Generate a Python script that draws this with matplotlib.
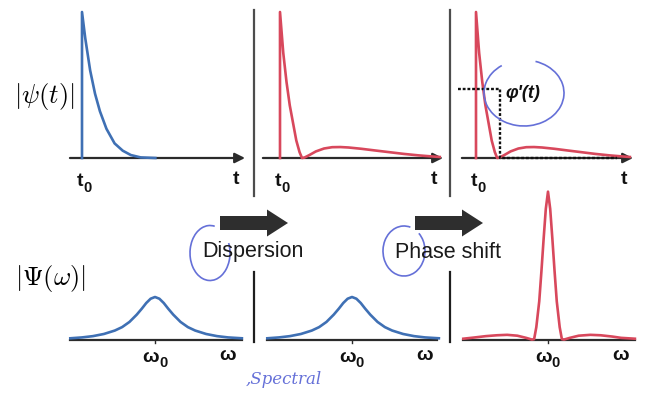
import matplotlib
matplotlib.use("Agg")
import matplotlib.pyplot as plt
from matplotlib import font_manager
from matplotlib.patches import FancyArrow, Arc

# ---------------------------
# Data
# ---------------------------
# top row: time axis (t0 = 0, arrow tip = 1), amplitude (peak = 1)
t_pulse = [0, 0, 0.02, 0.05, 0.08, 0.11, 0.15, 0.2, 0.25, 0.3, 0.36, 0.45]
a_pulse = [0, 1, 0.82, 0.6, 0.44, 0.32, 0.2, 0.1, 0.05, 0.02, 0.004, 0]

t_disp = [0, 0, 0.02, 0.04, 0.06, 0.08, 0.1, 0.12, 0.135, 0.15, 0.18, 0.22, 0.27,
          0.32, 0.37, 0.42, 0.5, 0.58, 0.67, 0.76, 0.85, 0.94, 0.98]
a_disp = [0, 1, 0.72, 0.52, 0.36, 0.24, 0.12, 0.04, 0.0, 0.003, 0.02, 0.045, 0.065,
          0.074, 0.075, 0.072, 0.063, 0.052, 0.04, 0.028, 0.018, 0.01, 0.007]

# dashed guide for the instantaneous frequency phi'(t)
phi_t = [-0.115, 0.153, 0.153, 0.9]
phi_a = [0.47, 0.47, 0, 0]

# bottom row: frequency axis (omega0 = 0, omega label = 1)
w_env = [-1.16, -1.0, -0.85, -0.7, -0.55, -0.45, -0.35, -0.25, -0.18, -0.12, -0.06, 0,
         0.06, 0.12, 0.18, 0.25, 0.35, 0.45, 0.55, 0.7, 0.85, 1.0, 1.19]
a_env = [0.04, 0.06, 0.09, 0.14, 0.22, 0.3, 0.42, 0.59, 0.73, 0.86, 0.96, 1.0,
         0.96, 0.86, 0.73, 0.59, 0.42, 0.3, 0.22, 0.14, 0.09, 0.06, 0.04]

w_comp = [-1.16, -1.0, -0.85, -0.7, -0.56, -0.42, -0.3, -0.22, -0.19, -0.16, -0.12,
          -0.09, -0.06, -0.03, 0, 0.03, 0.06, 0.09, 0.12, 0.16, 0.19, 0.22, 0.3,
          0.42, 0.58, 0.72, 0.88, 1.0, 1.19]
a_comp = [0.03, 0.06, 0.09, 0.11, 0.12, 0.1, 0.05, 0.01, 0.02, 0.3, 0.9, 1.6, 2.35,
          3.05, 3.45, 3.05, 2.35, 1.6, 0.9, 0.3, 0.02, 0.01, 0.05, 0.1, 0.12, 0.11,
          0.08, 0.05, 0.03]

steps = ["Dispersion", "Phase shift"]

BLUE = "#3f70b4"
RED = "#d8485c"
AXIS = "#2b2b2b"
PEN = "#6570d8"

names = {f.name for f in font_manager.fontManager.ttflist}
LABEL_FONT = "Liberation Sans Narrow" if "Liberation Sans Narrow" in names else "Liberation Sans"

W, H = 648, 396
fig = plt.figure(figsize=(W / 100, H / 100), dpi=100)


def px_axes(ox, oy, sx, sy, x0, x1, y0, y1):
    # axes over a pixel box, data origin at (ox, oy), sx/sy pixels per unit
    ax = fig.add_axes([x0 / W, 1 - y1 / H, (x1 - x0) / W, (y1 - y0) / H])
    ax.set_xlim((x0 - ox) / sx, (x1 - ox) / sx)
    ax.set_ylim((oy - y1) / sy, (oy - y0) / sy)
    ax.set_axis_off()
    return ax


def sub_label(ax, x, dy, main, sub, dx):
    kw = dict(xy=(x, 0), textcoords="offset pixels", ha="center", va="center",
              family=LABEL_FONT, fontweight="bold", color="#111111")
    ax.annotate(main, xytext=(-dx + 2, dy), fontsize=14, **kw)
    ax.annotate(sub, xytext=(dx + 2, dy - 6), fontsize=10.5, **kw)


def time_axis(ax, start, color, t, a):
    ax.annotate("", xy=(1, 0), xytext=(start, 0),
                arrowprops=dict(arrowstyle="-|>,head_length=0.6,head_width=0.3",
                                color=AXIS, lw=1.6, shrinkA=0, shrinkB=0))
    ax.plot(t, a, color=color, lw=1.9, solid_joinstyle="round", zorder=3)
    sub_label(ax, 0, -24, "t", "0", 4)
    ax.annotate("t", xy=(1, 0), xytext=(-9, -21), textcoords="offset pixels",
                ha="center", va="center", family=LABEL_FONT, fontweight="bold",
                fontsize=14, color="#111111")


def freq_axis(ax, start, end, color, w, a):
    ax.plot([start, end], [0, 0], color=AXIS, lw=1.6)
    ax.plot([0, 0], [0, -0.07], color=AXIS, lw=1.0)
    ax.plot(w, a, color=color, lw=1.9, solid_joinstyle="round", zorder=3)
    sub_label(ax, 0, -17, "ω", "0", 6)
    ax.annotate("ω", xy=(1, 0), xytext=(0, -15), textcoords="offset pixels",
                ha="center", va="center", family=LABEL_FONT, fontweight="bold",
                fontsize=14, color="#111111")


# top row
ax1 = px_axes(82, 158, 163, 146, 60, 250, 0, 200)
time_axis(ax1, -0.074, BLUE, t_pulse, a_pulse)

ax2 = px_axes(280, 158, 163, 146, 258, 448, 0, 200)
time_axis(ax2, -0.105, RED, t_disp, a_disp)

ax3 = px_axes(476, 158, 157, 146, 452, 642, 0, 200)
time_axis(ax3, -0.09, RED, t_disp, a_disp)
ax3.plot(phi_t, phi_a, color="#111111", lw=1.7, ls=(0, (1.2, 0.8)), zorder=4)
ax3.annotate("φ'(t)", xy=(phi_t[1], phi_a[1]), xytext=(5, -4), textcoords="offset pixels",
             ha="left", va="center", family="Liberation Sans", fontweight="bold",
             fontstyle="italic", fontsize=13, color="#111111")

# bottom row
ax4 = px_axes(155, 340, 73, 43, 62, 250, 180, 380)
freq_axis(ax4, -1.16, 1.19, BLUE, w_env, a_env)

ax5 = px_axes(352, 340, 73, 43, 258, 446, 180, 380)
freq_axis(ax5, -1.16, 1.17, BLUE, w_env, a_env)

ax6 = px_axes(548, 340, 73, 43, 452, 642, 180, 380)
freq_axis(ax6, -1.16, 1.19, RED, w_comp, a_comp)

# overlay in pixel units for the labels, arrows and hand annotations
ov = fig.add_axes([0, 0, 1, 1])
ov.set_xlim(0, W)
ov.set_ylim(H, 0)
ov.set_axis_off()

for x in (254, 450):
    ov.plot([x, x], [10, 196], color="#4d4d4d", lw=1.6)
    ov.plot([x, x], [272, 342], color="#1e1e1e", lw=1.6)

ov.text(44, 97, r"$|\psi(t)|$", fontsize=19, math_fontfamily="cm", ha="center", va="center")
ov.text(50, 278, r"$|\Psi(\omega)|$", fontsize=19, math_fontfamily="cm", ha="center", va="center")

for x0, label in zip((220, 415), steps):
    ov.add_patch(FancyArrow(x0, 223, 68, 0, width=14, head_width=27, head_length=21,
                            length_includes_head=True, color="#2e2e2e", lw=0))
    ov.text(x0 + 33, 252, label, ha="center", va="center", fontsize=15.5,
            family="Liberation Sans", color="#1a1a1a")

# handwritten pen marks
for cx, cy, w, h, th1, th2 in [(524, 93, 80, 66, 290, 231),
                               (210, 253, 40, 55, 332, 280),
                               (404, 251, 42, 50, 310, 285)]:
    ov.add_patch(Arc((cx, cy), w, h, theta1=th1, theta2=th2, color=PEN, lw=1.2))
ov.text(246, 380, ",Spectral", fontsize=12, family="DejaVu Serif", fontstyle="italic",
        color=PEN, ha="left", va="center")

fig.savefig("out.png", dpi=100)
